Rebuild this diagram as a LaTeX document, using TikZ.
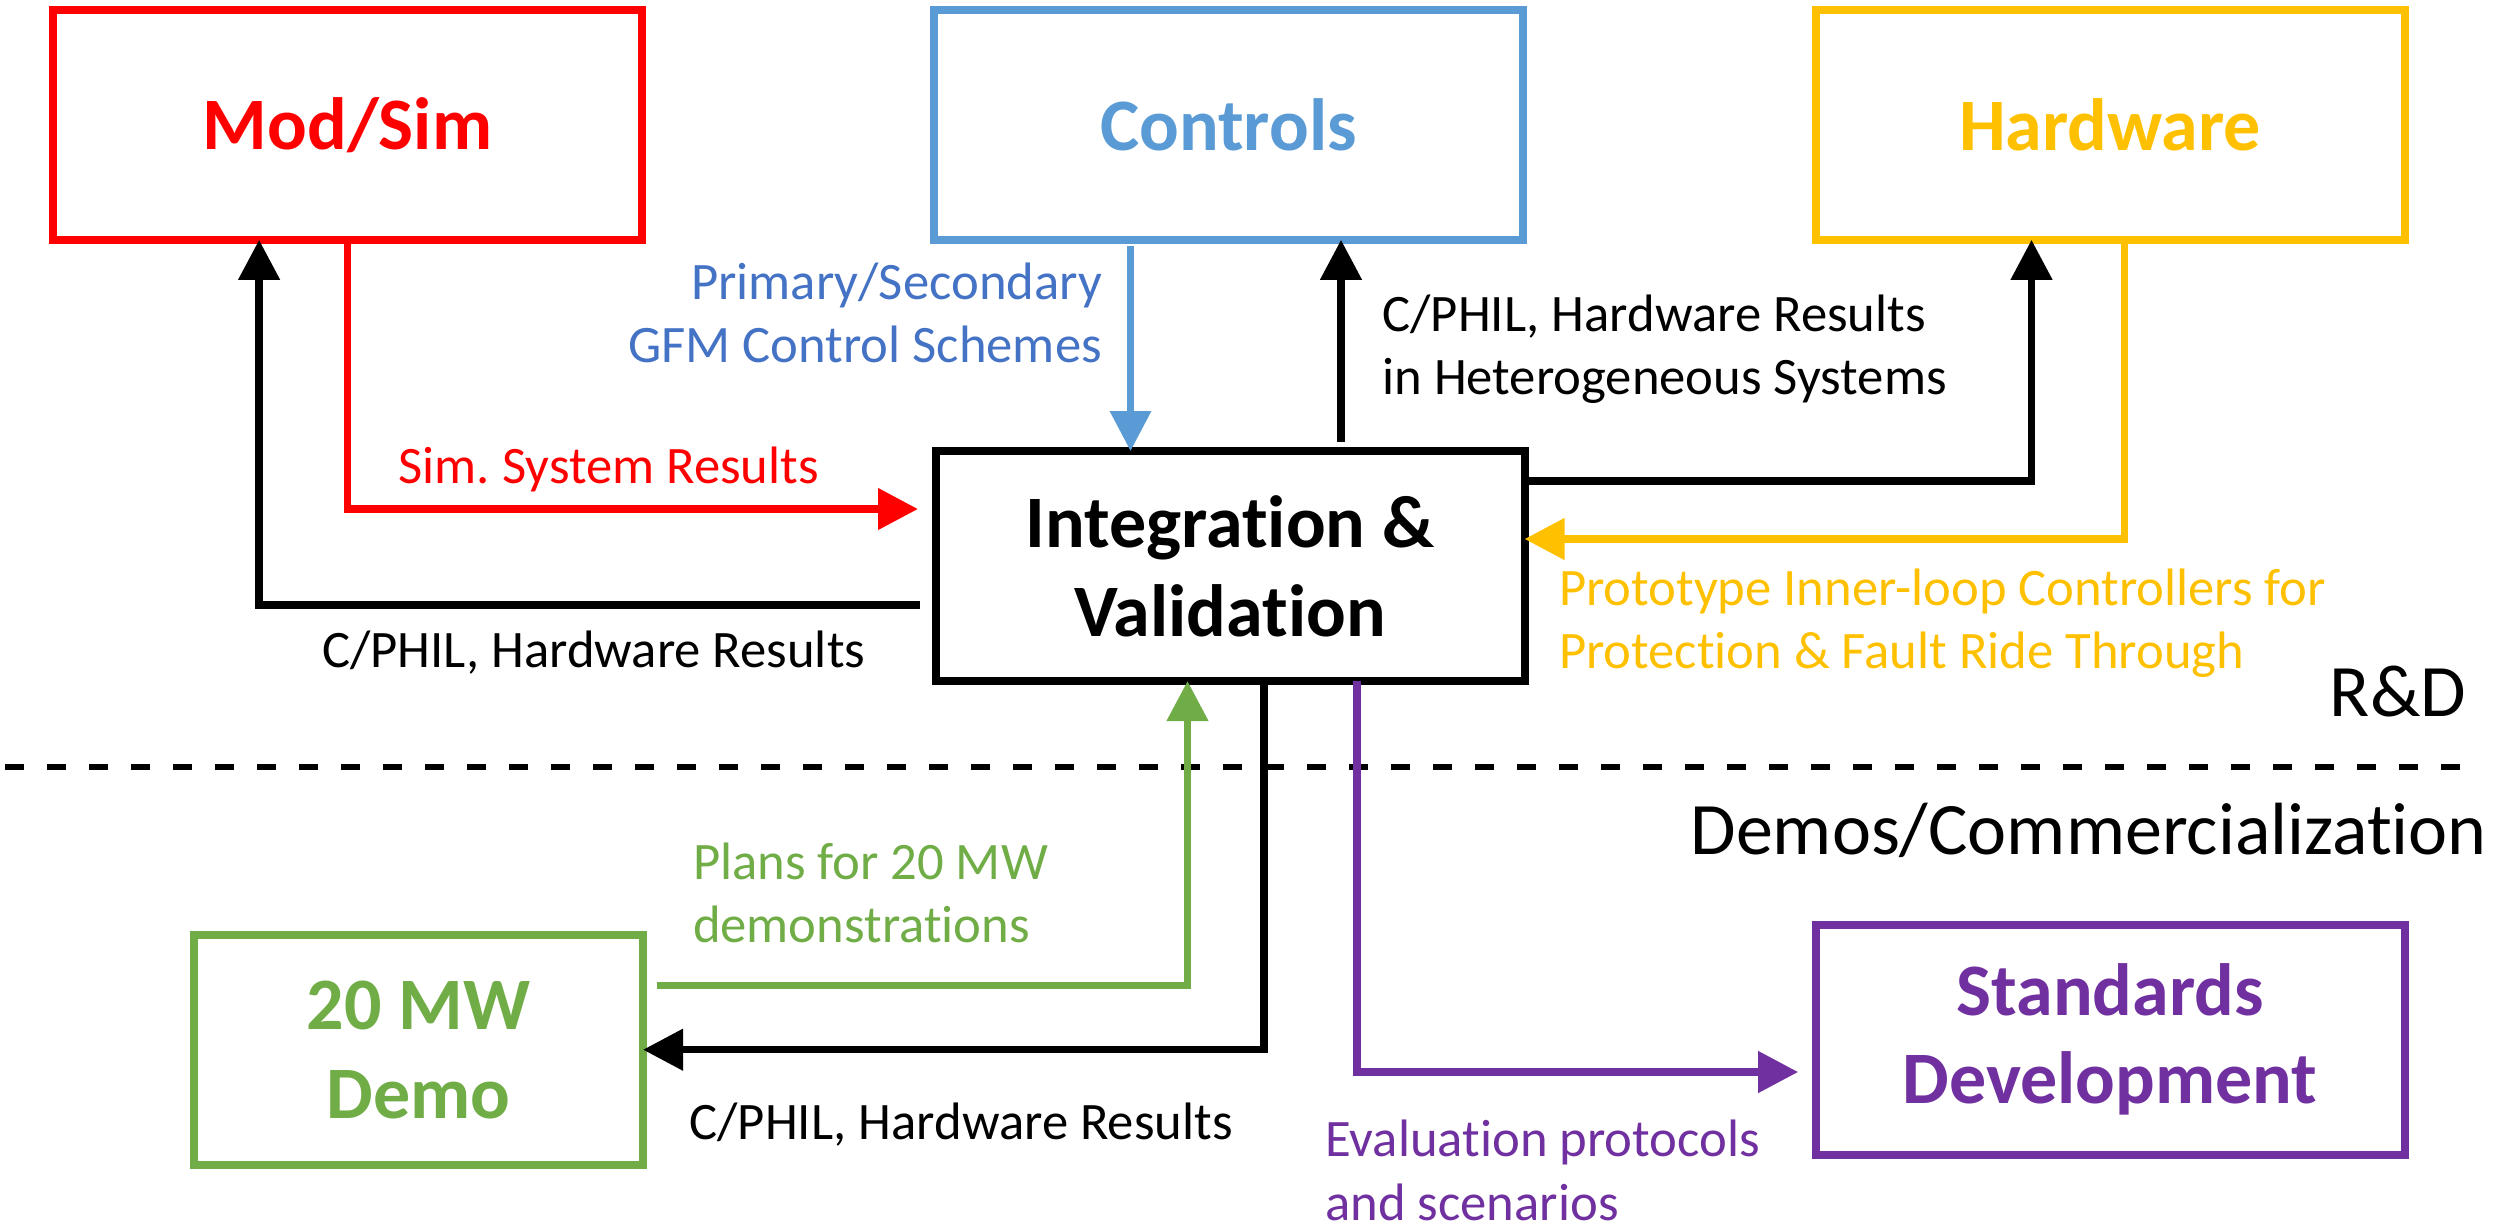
\documentclass[tikz,border=0pt]{standalone}
\usepackage{fontspec}
\setmainfont{Carlito}[Ligatures=CommonOff]
\usetikzlibrary{arrows.meta}
\definecolor{cred}{HTML}{FF0000}
\definecolor{cblue}{HTML}{5B9BD5}
\definecolor{clabblue}{HTML}{4472C4}
\definecolor{cyel}{HTML}{FFC000}
\definecolor{cgreen}{HTML}{70AD47}
\definecolor{cpurp}{HTML}{7030A0}
\frenchspacing
\begin{document}
\begin{tikzpicture}[x=0.3pt,y=-0.3pt,
 box/.style={draw,line width=2.4pt,minimum width=176.7pt,minimum height=69pt,inner sep=0pt,outer sep=0pt,align=center,font=\fontsize{22.2}{26.6}\selectfont\bfseries},
 lab/.style={inner sep=0pt,outer sep=0pt,font=\fontsize{15.8}{19}\selectfont,align=left,anchor=base west},
 con/.style={line width=2.25pt,-{Triangle[length=12pt,width=12pt]}},
 big/.style={inner sep=0pt,outer sep=0pt,font=\fontsize{22.2}{26.6}\selectfont}]
\useasboundingbox (0,0) rectangle (2494,1227);

% boxes
\node[box,draw=cred,text=cred] (msim) at (347.6,124.8) {Mod/Sim};
\node[box,draw=cblue,text=cblue] (ctrl) at (1228.5,124.8) {Controls};
\node[box,draw=cyel,text=cyel] (hw) at (2110,124.8) {Hardware};
\node[box] (intg) at (1230,566) {Integration \&\\Validation};
\node[box,draw=cgreen,text=cgreen,minimum width=134.7pt] (demo) at (418.5,1049.7) {20 MW\\Demo};
\node[box,draw=cpurp,text=cpurp] (std) at (2110,1039.5) {Standards\\Development};

% labels (multi-line: anchor at the baseline of the last line)
\node[lab,anchor=base east,align=right,text=clabblue] (lctrl) at (1102,362.8) {Primary/Secondary\\GFM Control Schemes};
\node[lab,text=cred] (lsim) at (398.6,483) {Sim. System Results};
\node[lab] (lms) at (322,667) {C/PHIL, Hardware Results};
\node[lab] (lhet) at (1382.5,394.7) {C/PHIL, Hardware Results\\in Heterogeneous Systems};
\node[lab,text=cyel] (lproto) at (1559,668.6) {Prototype Inner-loop Controllers for\\Protection \& Fault Ride Through};
\node[lab,text=cgreen] (lplan) at (693,942.5) {Plans for 20 MW\\demonstrations};
\node[lab] (ldemo) at (689.4,1139) {C/PHIL, Hardware Results};
\node[lab,text=cpurp] (leval) at (1325.4,1220) {Evaluation protocols\\and scenarios};
\node[big,anchor=base east] (rd) at (2466,716) {R\&D};
\node[big,anchor=base west] (dc) at (1690.5,854) {Demos/Commercialization};

% divider
\coordinate (dl) at (5,767);
\coordinate (dr) at (2482,767);
\draw[line width=1.8pt,dash pattern=on 5.7pt off 6.9pt] (dl) -- (dr);

% connectors
\draw[con,cred] (msim.south) |- ([xshift=-5.25pt]intg.west |- 0,509);
\draw[con] ([xshift=-4.65pt,yshift=-11.7pt]intg.west) -| ([xshift=61.8pt]msim.south west);
\coordinate (bs) at ([xshift=-29.4pt,yshift=-1.8pt]ctrl.south);
\draw[con,cblue,line width=2pt] (bs) -- (bs |- intg.north);
\coordinate (cs) at ([xshift=33.3pt,yshift=2.85pt]intg.north);
\draw[con] (cs) -- (cs |- ctrl.south);
\draw[con] ([yshift=25.5pt]intg.east) -| ([xshift=64.8pt]hw.south west);
\draw[con,cyel] ([xshift=4.3pt]hw.south) |- ([yshift=8.1pt]intg.east);
\draw[con,cgreen] ([xshift=4.05pt,yshift=19.3pt]demo.east) -| ([xshift=-12.75pt]intg.south);
\draw[con] ([xshift=10.2pt]intg.south) |- (demo.east);
\draw[con,cpurp] ([xshift=38.1pt]intg.south) |- ([xshift=-5.2pt,yshift=-9.75pt]std.west);
\end{tikzpicture}
\end{document}
